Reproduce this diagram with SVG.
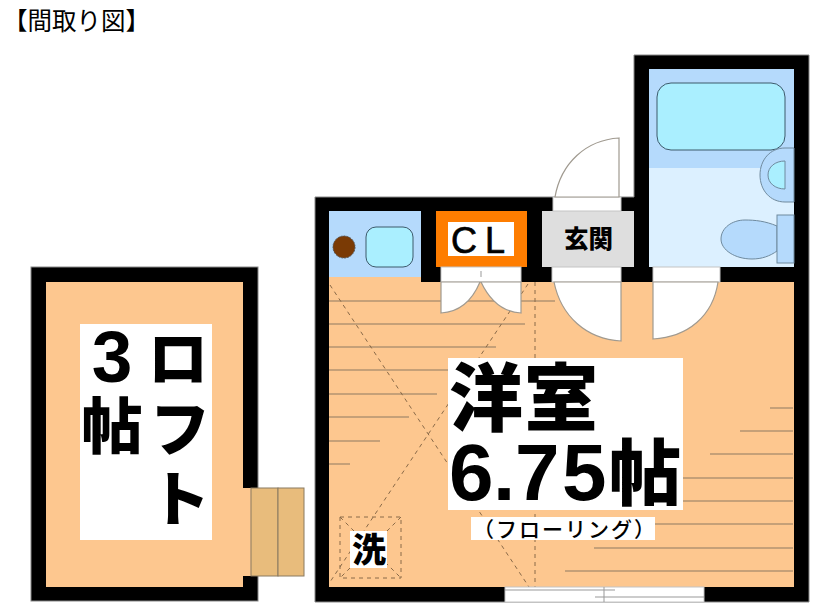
<svg xmlns="http://www.w3.org/2000/svg" width="815" height="606" viewBox="0 0 815 606">
<style>
.wall{fill:#000;stroke:#888;stroke-width:1}
.room{fill:#fdc78f}
.lbl{fill:#fff}
.bl{fill:#b5dafc}
.lt{fill:#dcf0ff}
.water{fill:#aaefff;stroke:#3d5a6b;stroke-width:1}
.fix{stroke:#6f8a9e;stroke-width:1}
.door{fill:#fff;stroke:#a09a90;stroke-width:1.2}
.open{fill:#fff;stroke:#c4c4c4;stroke-width:1}
.floor{stroke:#8d7a62;stroke-width:1.2;fill:none}
.dash{stroke:#8a6a48;stroke-width:1;stroke-dasharray:4 4;fill:none}
.stair{fill:#e8bc7c;stroke:#8a7a60;stroke-width:1}
.win{stroke:#999;stroke-width:1;fill:none}
text{font-family:"Noto Sans CJK JP","Liberation Sans",sans-serif;fill:#000;font-weight:900}
.latin{font-family:"Liberation Sans",sans-serif;font-weight:700}
</style>
<rect width="815" height="606" fill="#fff"/>
<text id="title" x="3" y="30" font-size="24.500" style="font-weight:400">【間取り図】</text>

<g id="loft">
<rect class="wall" x="31" y="267" width="227" height="334"/>
<rect class="room" x="46" y="282" width="197" height="305"/>
<rect class="room" x="243" y="488" width="15" height="88"/>
<rect class="lbl" x="80" y="324" width="132" height="216"/>
<text class="latin" x="112" y="382" font-size="73" text-anchor="middle">3</text>
<text x="112" y="449" font-size="61" text-anchor="middle">帖</text>
<text x="178" y="381" font-size="60" text-anchor="middle">ロ</text>
<text x="180" y="451" font-size="60" text-anchor="middle">フ</text>
<text x="180" y="521" font-size="60" text-anchor="middle">ト</text>
</g>
<g id="loft-stairs">
<rect class="stair" x="251" y="488" width="27" height="88"/>
<rect class="stair" x="278" y="488" width="26" height="88"/>
</g>

<g id="main-room">
<path class="wall" d="M315 197H634V55H809V602H315Z"/>
<rect class="room" x="329" y="282" width="465" height="305"/>
<rect class="room" x="329" y="277" width="92" height="6"/>
</g>

<g id="connectors">
<g class="floor">
<path d="M329 301H555M329 324H525M329 347H496M329 370H467M329 394H437M329 417H409M329 441H380M329 464H350"/>
<path d="M793 408H770M793 431H740M793 454H710M793 478H681M793 501H651M793 524H622M793 548H594M793 571H565"/>
</g>
<path class="dash" d="M330 285L529 587M528 284L330 582M535 282V587"/>
</g>

<g id="washer">
<rect class="dash" x="340" y="517" width="61" height="61"/>
<path class="dash" d="M340 517L401 578M401 517L340 578"/>
<rect class="lbl" x="350" y="531" width="37" height="37"/>
<text x="369" y="562" font-size="34" text-anchor="middle">洗</text>
</g>

<g id="western-room-label">
<rect class="lbl" x="448" y="358" width="235" height="152"/>
<text x="449" y="425" font-size="74" letter-spacing="1">洋室</text>
<text class="latin" y="500" font-size="80"><tspan x="449">6</tspan><tspan x="493">.</tspan><tspan x="515">7</tspan><tspan x="562">5</tspan></text>
<text x="645" y="499" font-size="72" text-anchor="middle">帖</text>
<rect class="lbl" x="471" y="517" width="184" height="23"/>
<text x="473" y="537" font-size="21" letter-spacing="2" style="font-weight:500">（フローリング）</text>
</g>

<g id="sink">
<rect class="bl" x="329" y="211" width="92" height="66"/>
<circle cx="344" cy="247" r="11" fill="#7a3a05" stroke="#555" stroke-dasharray="2 1"/>
<rect class="water" x="366" y="227" width="47" height="40" rx="10"/>
</g>

<g id="closet">
<rect x="436" y="211" width="91" height="56" fill="#fe7d00"/>
<rect class="lbl" x="448" y="222" width="66" height="34"/>
<text y="253" font-size="36" style="font-family:'Liberation Sans',sans-serif;font-weight:400" stroke="#000" stroke-width="0.7"><tspan x="451">C</tspan><tspan x="485">L</tspan></text>
<rect class="open" x="441" y="267" width="80" height="15"/>
<path class="win" d="M481 271V277"/>
<path class="door" d="M441 282V313C459 312 472 301 480 282ZM521 282V313C503 312 490 301 481 282Z"/>
</g>

<g id="entrance">
<rect x="542" y="211" width="92" height="56" fill="#dedede"/>
<text x="588.500" y="248" font-size="24.500" text-anchor="middle">玄関</text>
<rect class="open" x="552" y="267" width="69" height="15"/>
<path class="door" d="M621 282V341C586 339 561 316 554 282Z"/>
<rect class="open" x="553" y="197" width="68" height="14"/>
<path class="door" d="M619 197V138C586 140 561 163 555 197Z"/>
</g>

<g id="bath">
<rect class="bl" x="649" y="69" width="145" height="99"/>
<rect class="lt" x="649" y="168" width="145" height="99"/>
<rect class="water" x="657" y="83" width="128" height="67" rx="14"/>
<path class="bl fix" d="M794 148H785C770 148 760 160 760 175C760 190 770 202 785 202H794Z"/>
<path class="water fix" d="M785 161C775 161 768 167 768 175C768 183 775 189 785 189Z"/>
<path class="bl fix" d="M777 226C765 221 755 220 745 220C732 220 721 228 721 239C721 250 735 259 752 259C762 259 770 256 777 251Z"/>
<rect class="bl fix" x="777" y="215" width="17" height="48"/>
<rect class="open" x="653" y="267" width="67" height="15"/>
<path class="door" d="M653 282V339C688 337 713 316 718 282Z"/>
</g>

<g id="window">
<rect class="open" x="505" y="587" width="199" height="15"/>
<path class="win" d="M505 590H615M595 597H704M604 587V602"/>
</g>
</svg>
